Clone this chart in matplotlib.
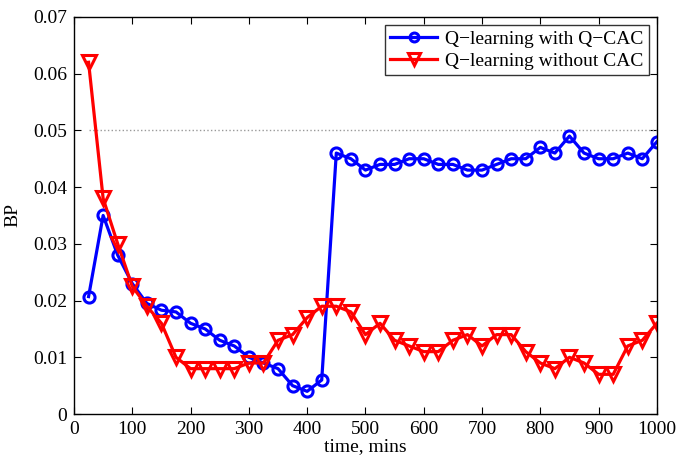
import numpy as np
import matplotlib.pyplot as plt

plt.rcParams['font.family'] = ['Liberation Serif', 'DejaVu Serif']

# Data
time = np.arange(25, 1001, 25)
qcac = [0.0207, 0.035, 0.028, 0.023, 0.0195, 0.0183, 0.018, 0.016, 0.015, 0.013,
        0.012, 0.010, 0.009, 0.008, 0.005, 0.004, 0.006, 0.046, 0.045, 0.043,
        0.044, 0.044, 0.045, 0.045, 0.044, 0.044, 0.043, 0.043, 0.044, 0.045,
        0.045, 0.047, 0.046, 0.049, 0.046, 0.045, 0.045, 0.046, 0.045, 0.048]
nocac = [0.062, 0.038, 0.030, 0.0225, 0.019, 0.016, 0.010, 0.008, 0.008, 0.008,
         0.008, 0.009, 0.009, 0.013, 0.014, 0.017, 0.019, 0.019, 0.018, 0.014,
         0.016, 0.013, 0.012, 0.011, 0.011, 0.013, 0.014, 0.012, 0.014, 0.014,
         0.011, 0.009, 0.008, 0.010, 0.009, 0.007, 0.007, 0.012, 0.013, 0.016]
threshold = 0.05

fig = plt.figure(figsize=(6.77, 4.57), dpi=100)
ax = fig.add_axes([0.1093, 0.094, 0.861, 0.869])

ax.plot([time[0], time[-1]], [threshold, threshold], ':', color='#999999', lw=1)
ax.plot(time, qcac, '-o', color='blue', lw=2.3, ms=8, mew=2.2,
        mfc='none', label='Q\u2212learning with Q\u2212CAC')
ax.plot(time, nocac, '-v', color='red', lw=2.3, ms=10, mew=2.2,
        mfc='none', label='Q\u2212learning without CAC')

ax.set_xlim(0, 1000)
ax.set_ylim(0, 0.07)
ax.set_xticks(np.arange(0, 1001, 100))
ax.set_yticks(np.arange(0, 0.071, 0.01))
ax.set_yticklabels(['0', '0.01', '0.02', '0.03', '0.04', '0.05', '0.06', '0.07'])
ax.tick_params(direction='in', top=True, right=True, labelsize=14, length=5, pad=5)
ax.set_xlabel('time, mins', fontsize=14, labelpad=0)
ax.set_ylabel('BP', fontsize=14, labelpad=8)
for s in ax.spines.values():
    s.set_linewidth(1)

leg = ax.legend(loc='upper right', fontsize=14, fancybox=False, edgecolor='black',
                borderpad=0.3, handlelength=2.4, labelspacing=0.2, handletextpad=0.4,
                borderaxespad=0.4, markerscale=0.8)
leg.get_frame().set_linewidth(1)

fig.savefig('out.png', dpi=100)
